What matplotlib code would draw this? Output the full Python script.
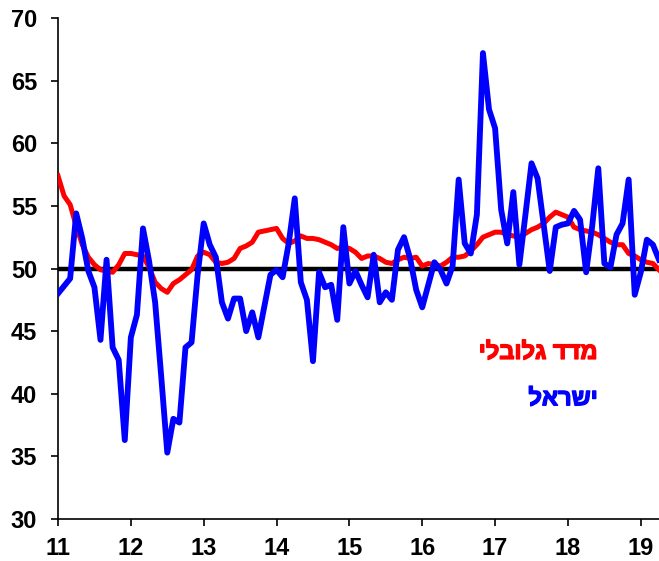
import matplotlib
matplotlib.use("Agg")
import matplotlib.pyplot as plt
import matplotlib.patheffects as pe
import numpy as np

plt.rcParams['font.family'] = ['Liberation Sans', 'DejaVu Sans']

start_year = 11
global_pmi = [57.4, 55.8, 55.1, 53.4, 51.9, 50.9, 50.3, 49.9, 49.8, 49.7,
              50.3, 51.2, 51.2, 51.1, 51.0, 50.1, 48.9, 48.4, 48.1, 48.8,
              49.1, 49.5, 49.9, 51.0, 51.3, 51.1, 50.5, 50.4, 50.5, 50.8,
              51.6, 51.8, 52.1, 52.9, 53.0, 53.1, 53.2, 52.4, 52.0, 52.2,
              52.6, 52.4, 52.4, 52.3, 52.1, 51.9, 51.6, 51.7, 51.6, 51.3,
              50.8, 51.0, 51.0, 50.8, 50.5, 50.4, 50.7, 50.9, 50.8, 50.9,
              50.2, 50.4, 50.3, 50.2, 50.5, 50.9, 50.9, 51.0, 51.4, 51.9,
              52.5, 52.7, 52.9, 52.9, 52.7, 52.6, 52.5, 52.8, 53.1, 53.3,
              53.6, 54.1, 54.5, 54.3, 54.1, 53.3, 53.1, 53.0, 52.9, 52.7,
              52.4, 52.1, 51.9, 51.9, 51.2, 51.0, 50.7, 50.5, 50.4, 49.9]
israel_pmi = [48.0, 48.6, 49.2, 54.4, 52.4, 49.8, 48.5, 44.3, 50.7, 43.7,
              42.7, 36.3, 44.5, 46.3, 53.2, 50.6, 47.3, 41.4, 35.3, 38.0,
              37.7, 43.7, 44.1, 49.5, 53.6, 51.9, 50.9, 47.3, 46.0, 47.6,
              47.6, 45.0, 46.5, 44.5, 47.0, 49.5, 49.9, 49.3, 52.0, 55.6,
              48.9, 47.5, 42.6, 49.7, 48.5, 48.7, 45.9, 53.3, 48.8, 49.8,
              48.7, 47.7, 51.1, 47.3, 48.1, 47.5, 51.5, 52.5, 50.8, 48.3,
              46.9, 48.7, 50.5, 49.9, 48.8, 50.2, 57.1, 52.0, 51.2, 54.3,
              67.2, 62.7, 61.2, 54.7, 52.0, 56.1, 50.3, 54.3, 58.4, 57.2,
              53.5, 49.8, 53.3, 53.5, 53.6, 54.6, 53.9, 49.7, 53.4, 58.0,
              50.4, 50.1, 52.7, 53.6, 57.1, 47.9, 49.7, 52.3, 51.9, 50.7]
threshold = 50
x_ticks = [11, 12, 13, 14, 15, 16, 17, 18, 19]
y_ticks = [30, 35, 40, 45, 50, 55, 60, 65, 70]
label_global = "מדד גלובלי"
label_israel = "ישראל"

x = start_year + np.arange(len(israel_pmi)) / 12.0

fig = plt.figure(figsize=(6.59, 5.61), dpi=100)
ax = fig.add_axes([58/659, 1 - 519/561, (659 - 58)/659, (519 - 18)/561])

ax.axhline(threshold, color='black', lw=3.2, zorder=2)
ax.plot(x, global_pmi, color='#ff0000', lw=3.6, zorder=3, solid_joinstyle='round')
ax.plot(x, israel_pmi, color='#0000ff', lw=4.2, zorder=4, solid_joinstyle='round')

ax.set_xlim(11, 19.25)
ax.set_ylim(30, 70)
ax.set_xticks(x_ticks)
ax.set_yticks(y_ticks)
ax.set_xticklabels([str(t) for t in x_ticks])
ax.set_yticklabels([str(t) for t in y_ticks])
for s in ['top', 'right']:
    ax.spines[s].set_visible(False)
for s in ['left', 'bottom']:
    ax.spines[s].set_linewidth(1.2)
    ax.spines[s].set_color('black')
ax.tick_params(axis='both', direction='out', length=5, width=1.2, colors='black',
               labelsize=17)
for lab in ax.get_xticklabels() + ax.get_yticklabels():
    lab.set_fontweight('bold')
ax.tick_params(axis='x', pad=8)
ax.tick_params(axis='y', pad=10)

for txt, yv, col in [(label_global, 43.3, '#ff0000'), (label_israel, 39.6, '#0000ff')]:
    ax.text(18.41, yv, txt[::-1], color=col, fontsize=17,
            fontweight='bold', ha='right', va='center',
            family=['Liberation Sans', 'DejaVu Sans'],
            path_effects=[pe.withStroke(linewidth=1.0, foreground=col)])

fig.savefig('out.png', dpi=100)
